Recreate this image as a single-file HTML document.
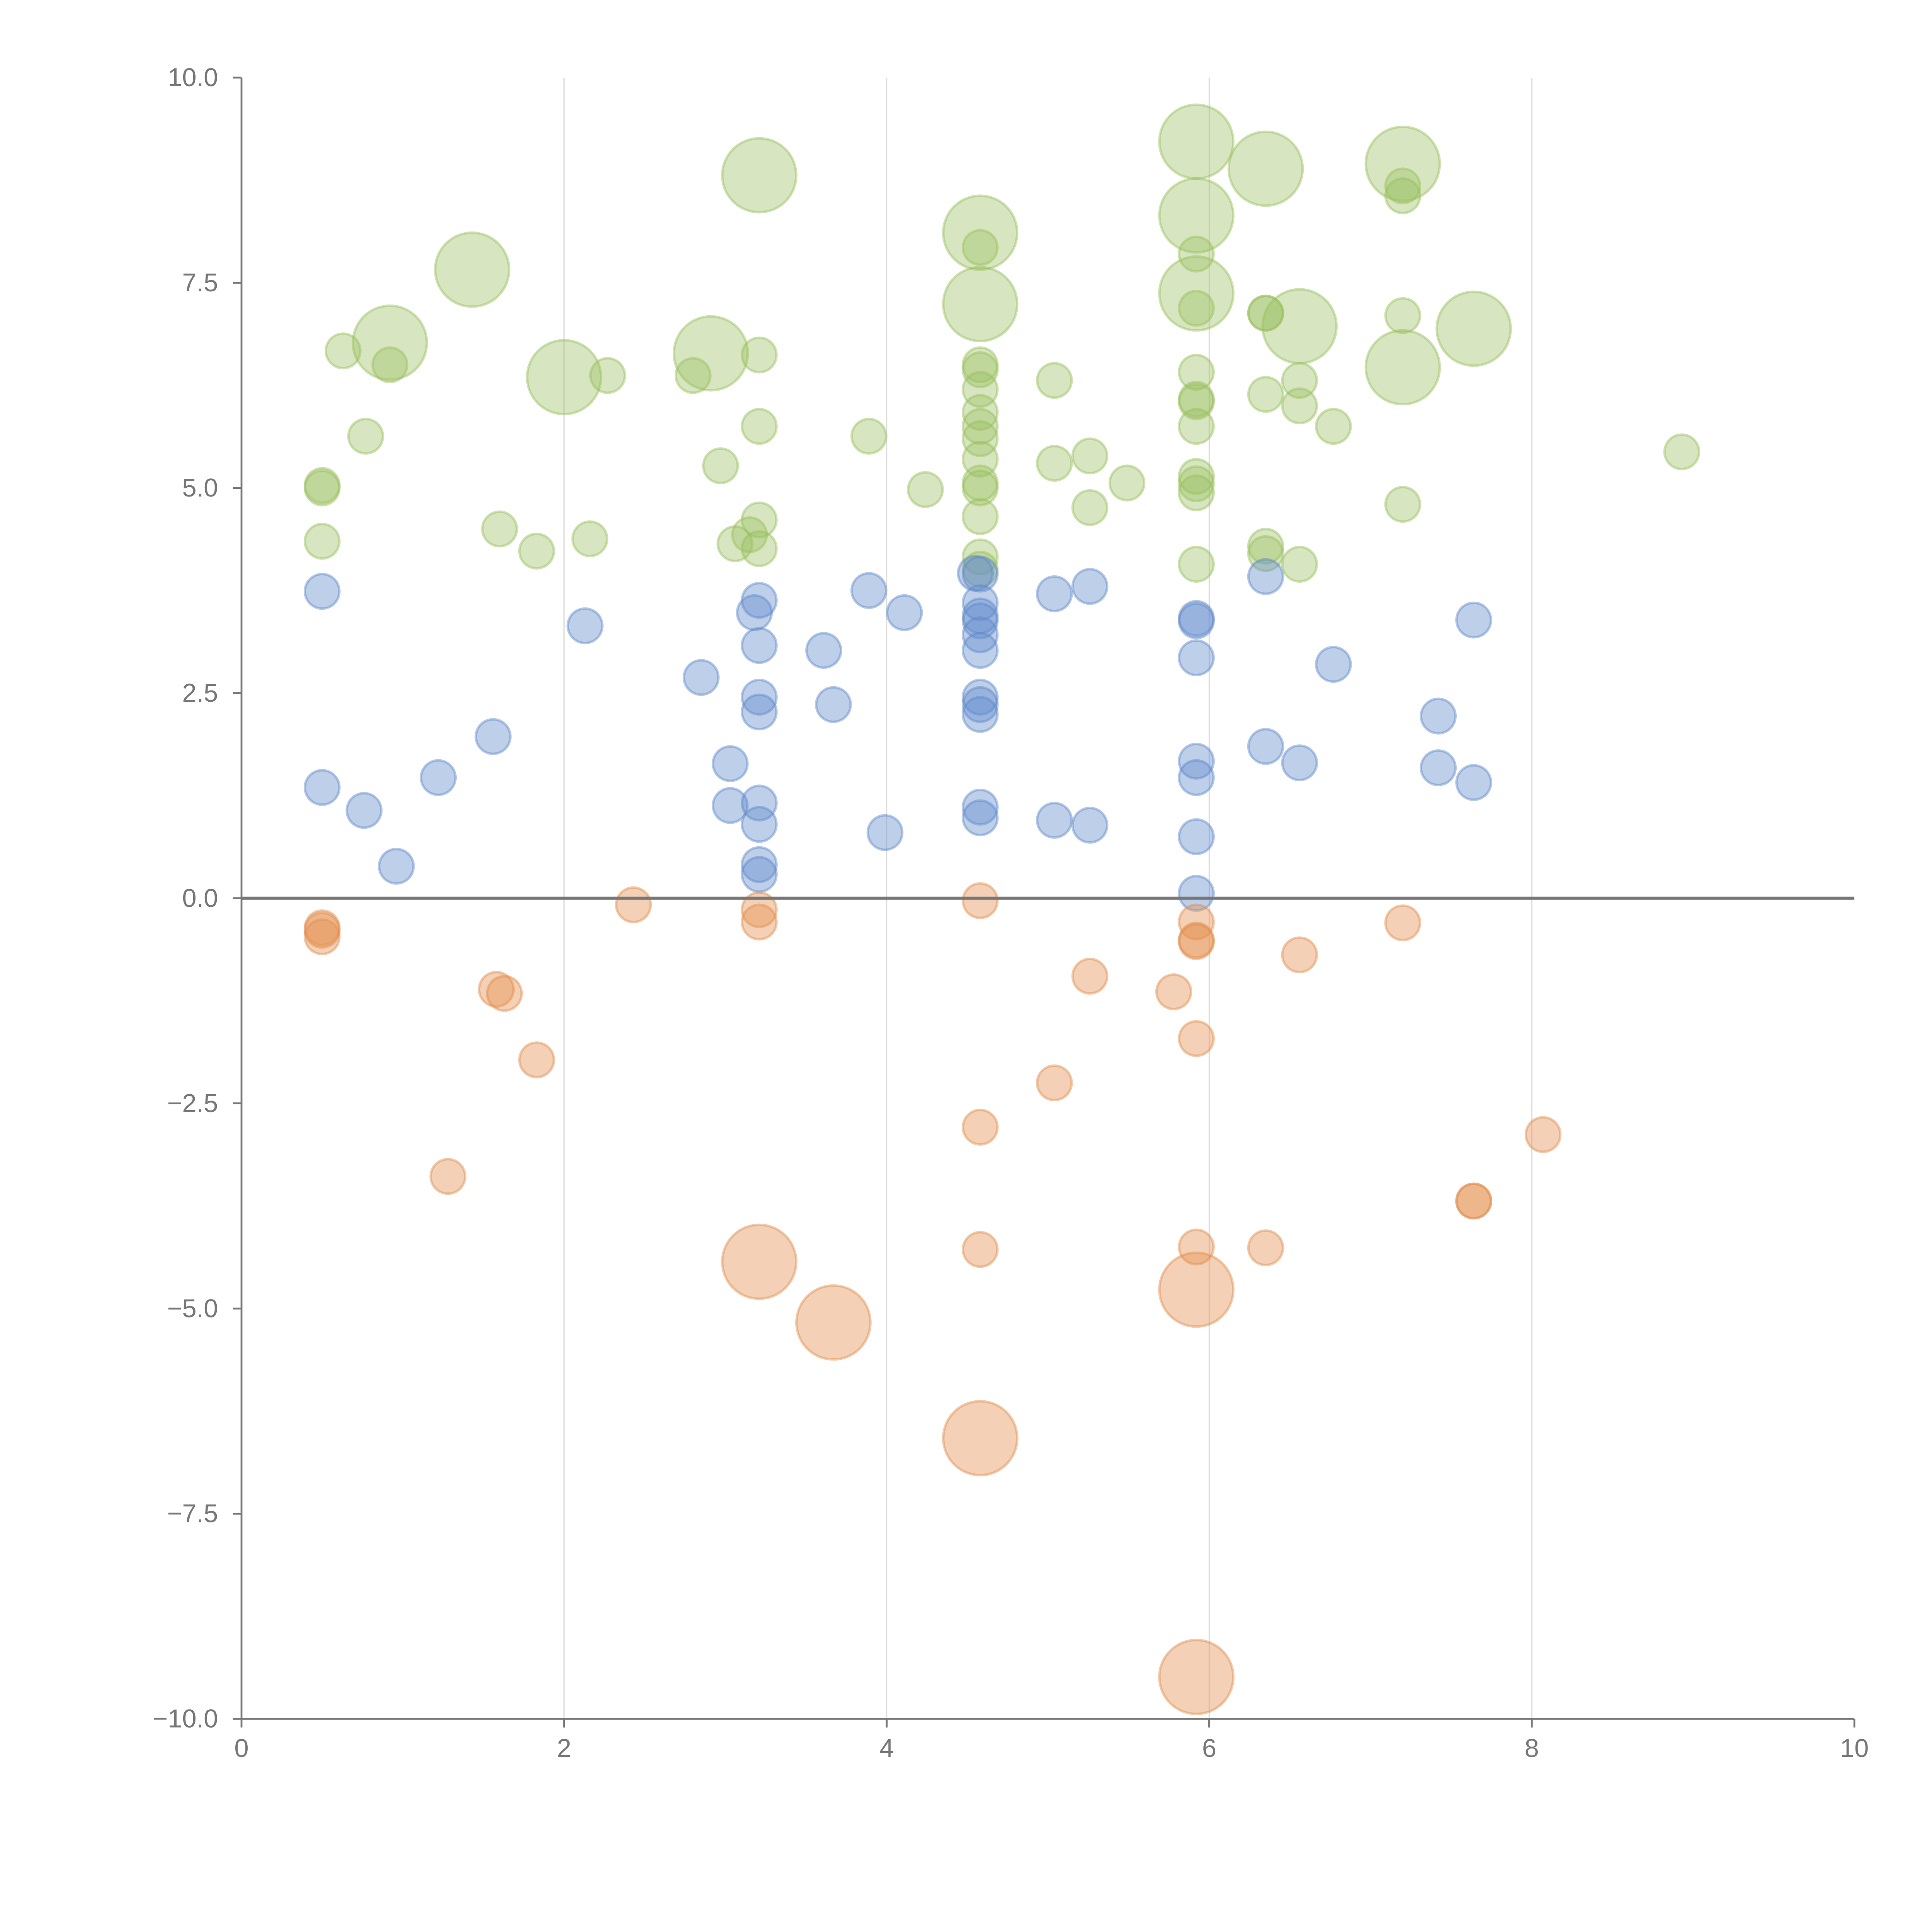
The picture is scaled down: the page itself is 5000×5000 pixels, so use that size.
<!DOCTYPE html>
<html><head><meta charset="utf-8"><style>
html,body{margin:0;padding:0;background:#fff;}
svg{display:block;}
text{font-family:"Liberation Sans",sans-serif;fill:#777;font-size:21px;}
</style></head><body>
<svg id="chart" width="5000" height="5000" viewBox="0 0 1568 1568" xmlns="http://www.w3.org/2000/svg">
<g id="grid"></g>
<g id="marks"></g>
<g id="axes"></g>
</svg>
<script>
const xTicks=[0,2,4,6,8,10];
const yTicks=[10,7.5,5,2.5,0,-2.5,-5,-7.5,-10];
const greenX=[3.21,1.43,0.92,2.0,2.91,4.58,4.58,5.92,5.92,5.92,6.35,7.2,6.56,7.64,7.2,
0.63,0.92,0.77,0.5,0.5,0.5,1.6,1.83,2.16,2.27,2.8,2.97,3.06,3.15,3.21,3.21,3.21,3.21,3.89,4.24,
4.58,4.58,4.58,4.58,4.58,4.58,4.58,4.58,4.58,4.58,4.58,4.58,4.58,5.04,5.04,5.26,5.26,5.49,
5.92,5.92,5.92,5.92,5.92,5.92,5.92,5.92,5.92,5.92,6.35,6.35,6.35,6.35,6.35,6.56,6.56,6.56,6.77,7.2,7.2,7.2,7.2,8.93];
const greenY=[8.81,7.66,6.77,6.35,6.64,8.11,7.24,9.22,8.32,7.37,8.89,8.95,6.97,6.94,6.47,
6.67,6.5,5.63,5.03,5.0,4.35,4.5,4.23,4.38,6.37,6.37,5.27,4.32,4.43,4.61,4.26,6.62,5.75,5.63,4.98,
7.93,6.5,6.44,6.2,5.92,5.75,5.6,5.35,5.06,5.0,4.65,4.16,4.01,6.31,5.3,5.39,4.76,5.06,
7.85,7.19,6.41,6.08,6.05,5.75,5.14,5.05,4.94,4.07,7.13,7.13,6.14,4.29,4.2,6.31,6.0,4.07,5.75,8.68,8.56,7.1,4.8,5.44];
const greenS=[2,2,2,2,2,2,2,2,2,2,2,2,2,2,2];
const blueX=[0.5,0.5,0.76,0.96,1.22,1.56,2.13,2.85,3.03,3.03,3.18,3.21,3.21,3.21,3.21,3.21,3.21,3.21,3.21,3.61,3.67,3.89,3.99,4.11,
4.55,4.58,4.58,4.58,4.58,4.58,4.58,4.58,4.58,4.58,4.58,4.58,5.04,5.04,5.26,5.26,5.92,5.92,5.92,5.92,5.92,5.92,5.92,6.35,6.35,6.56,6.77,7.42,7.42,7.64,7.64];
const blueY=[3.74,1.35,1.07,0.39,1.47,1.97,3.32,2.69,1.64,1.13,3.48,3.63,3.08,2.45,2.27,1.16,0.9,0.41,0.29,3.02,2.36,3.75,0.8,3.48,
3.96,3.95,3.6,3.44,3.38,3.21,3.02,2.45,2.36,2.24,1.11,0.98,3.71,0.95,3.8,0.89,3.41,3.38,2.93,1.67,1.47,0.75,0.06,3.92,1.85,1.65,2.85,2.22,1.59,3.39,1.41];
const orangeX=[3.21,3.67,4.58,5.92,5.92,
0.5,0.5,0.5,1.28,1.58,1.63,1.83,2.43,3.21,3.21,4.58,4.58,4.58,5.04,5.26,5.78,5.92,5.92,5.92,5.92,5.92,6.35,6.56,7.2,7.64,7.64,8.07];
const orangeY=[-4.43,-5.17,-6.58,-4.77,-9.49,
-0.36,-0.47,-0.39,-3.39,-1.11,-1.16,-1.97,-0.08,-0.14,-0.29,-0.03,-2.79,-4.28,-2.25,-0.95,-1.14,-0.29,-0.51,-0.53,-1.71,-4.25,-4.26,-0.69,-0.3,-3.69,-3.69,-2.88];
const orangeS=[2,2,2,2,2];
const X0=196,X1=1505,Y0=1395,Y1=63;
const sx=v=>X0+(v-0)/(10-0)*(X1-X0);
const sy=v=>Y0-(v+10)/20*(Y0-Y1);
const NS="http://www.w3.org/2000/svg";
function mk(tag,attrs,parent){const e=document.createElementNS(NS,tag);for(const k in attrs)e.setAttribute(k,attrs[k]);parent.appendChild(e);return e;}
const grid=document.getElementById('grid'),marks=document.getElementById('marks'),axes=document.getElementById('axes');
xTicks.forEach(t=>{if(t>0&&t<10){const l=mk('line',{x1:sx(t),x2:sx(t),y1:Y1,y2:Y0,stroke:'#ddd','stroke-width':1},grid);

}});
function series(xs,ys,ss,fill,stroke,name){
xs.forEach((x,i)=>{const r=(ss[i]||1)===2?30:14;
const c=mk('circle',{cx:sx(x),cy:sy(ys[i]),r:r,fill:fill,stroke:stroke,'stroke-width':2},marks);

});}
series(greenX,greenY,greenS,'rgba(155,192,98,0.4)','rgba(150,190,90,0.45)','bubble-green');
series(blueX,blueY,[],'rgba(100,140,205,0.42)','rgba(95,135,200,0.45)','bubble-blue');
series(orangeX,orangeY,orangeS,'rgba(228,145,80,0.42)','rgba(225,140,75,0.45)','bubble-orange');
const zl=mk('line',{x1:X0,x2:X1,y1:sy(0),y2:sy(0),stroke:'#777','stroke-width':2.5},axes);


const ya=mk('line',{x1:X0,x2:X0,y1:Y1,y2:Y0,stroke:'#777','stroke-width':1.5},axes);


const xa=mk('line',{x1:X0,x2:X1,y1:Y0,y2:Y0,stroke:'#777','stroke-width':1.5},axes);


xTicks.forEach(t=>{mk('line',{x1:sx(t),x2:sx(t),y1:Y0,y2:Y0+7,stroke:'#777','stroke-width':1.5},axes);
const tx=mk('text',{x:sx(t),y:Y0+31,'text-anchor':'middle'},axes);tx.textContent=String(t);

});
yTicks.forEach(t=>{mk('line',{x1:X0-7,x2:X0,y1:sy(t),y2:sy(t),stroke:'#777','stroke-width':1.5},axes);
const tx=mk('text',{x:X0-19,y:sy(t)+7,'text-anchor':'end'},axes);tx.textContent=t.toFixed(1).replace('-','\u2212');

});
</script>
</body></html>
